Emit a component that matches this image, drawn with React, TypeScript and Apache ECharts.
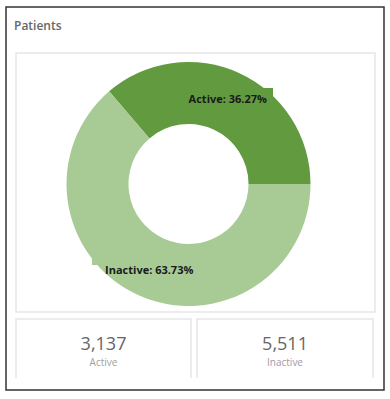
import React, { useEffect, useRef } from "react";
import * as echarts from "echarts";

const categories = ["Active", "Inactive"];
const counts = [3137, 5511];
const percents = [36.27, 63.73];
const countLabels = ["3,137", "5,511"];
const colors = ["#629b3f", "#a8cb95"];

export default function App() {
  const ref = useRef<HTMLDivElement>(null);
  useEffect(() => {
    const chart = echarts.init(ref.current!, null, { renderer: "svg" });
    const font = "'Open Sans', 'Noto Sans', sans-serif";
    chart.setOption({
      animation: false,
      backgroundColor: "#ffffff",
      graphic: [
        { type: "rect", shape: { x: 6, y: 7, width: 378, height: 383 }, style: { fill: "#fff", stroke: "#333", lineWidth: 1.5 }, z: 0 },
        { type: "text", x: 14, y: 19, style: { text: "Patients", font: `600 12px ${font}`, fill: "#666" }, z: 2 },
        { type: "rect", shape: { x: 16, y: 53, width: 359, height: 259 }, style: { fill: "#fff", stroke: "#e6e6e6", lineWidth: 1.5 }, z: 1 },
        { type: "polyline", shape: { points: [[16, 378], [16, 319], [191, 319], [191, 378]] }, style: { fill: null, stroke: "#e6e6e6", lineWidth: 1.5 }, z: 1 },
        { type: "polyline", shape: { points: [[197, 378], [197, 319], [373, 319], [373, 378]] }, style: { fill: null, stroke: "#e6e6e6", lineWidth: 1.5 }, z: 1 },
        { type: "text", x: 103.5, y: 343, style: { text: countLabels[0], font: `18px ${font}`, fill: "#666", align: "center", verticalAlign: "middle" }, z: 2 },
        { type: "text", x: 103.5, y: 362, style: { text: categories[0], font: `10px ${font}`, fill: "#a0a0a0", align: "center", verticalAlign: "middle" }, z: 2 },
        { type: "text", x: 285, y: 343, style: { text: countLabels[1], font: `18px ${font}`, fill: "#666", align: "center", verticalAlign: "middle" }, z: 2 },
        { type: "text", x: 285, y: 362, style: { text: categories[1], font: `10px ${font}`, fill: "#a596a8", align: "center", verticalAlign: "middle" }, z: 2 },
        { type: "polygon", shape: { points: [[261, 88], [273, 88], [273, 97], [261, 97]] }, style: { fill: colors[0] }, z: 3 },
        { type: "polygon", shape: { points: [[92, 257], [99, 257], [99, 265], [92, 265]] }, style: { fill: colors[1] }, z: 3 },
      ],
      series: [
        {
          type: "pie",
          center: [188.5, 184],
          radius: [60, 122],
          startAngle: 0,
          clockwise: false,
          z: 2,
          label: {
            show: true,
            position: "inside",
            formatter: (p: any) => `${p.name}: ${percents[p.dataIndex].toFixed(2)}%`,
            color: "#1a1a1a",
            fontWeight: "bold",
            fontSize: 11,
            fontFamily: font,
          },
          labelLine: { show: false },
          itemStyle: { borderWidth: 0 },
          emphasis: { disabled: true },
          data: categories.map((c, i) => ({ name: c, value: counts[i], itemStyle: { color: colors[i] } })),
        },
      ],
    });
    return () => chart.dispose();
  }, []);
  return <div ref={ref} style={{ position: "fixed", left: 0, top: 0, width: 390, height: 399 }} />;
}
